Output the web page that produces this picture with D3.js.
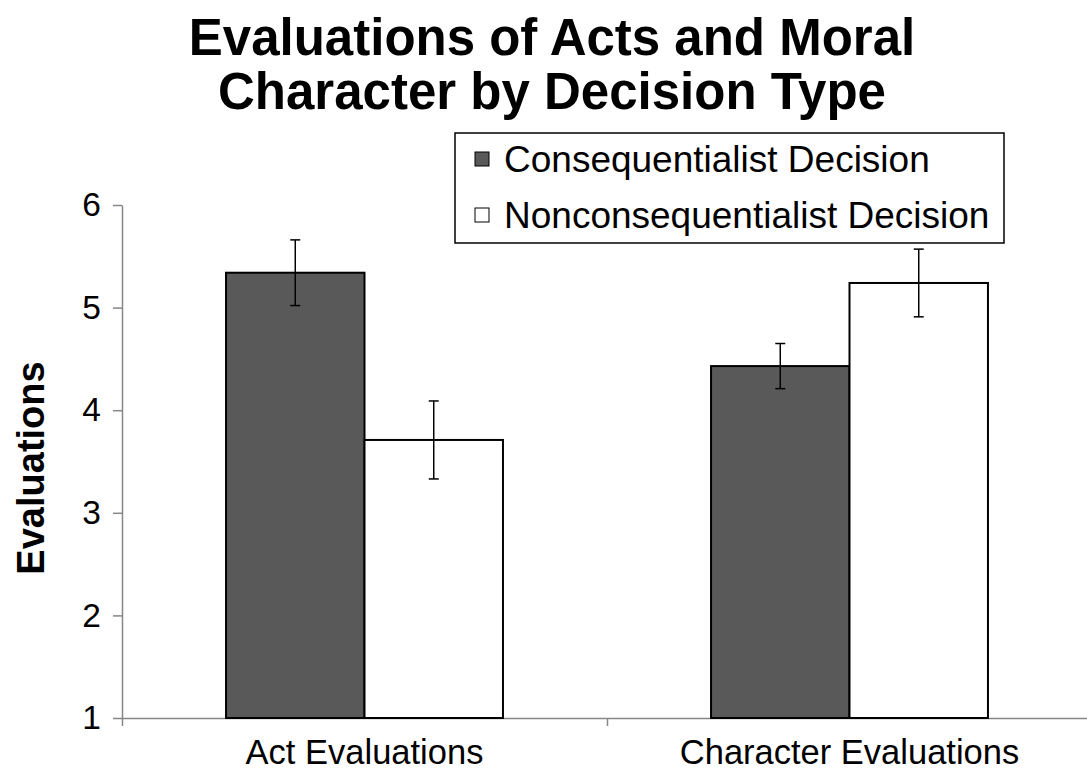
<!DOCTYPE html>
<html>
<head>
<meta charset="utf-8">
<script src="https://cdn.jsdelivr.net/npm/d3@7"></script>
<style>
  body { margin: 0; background: #fff; }
  svg { display: block; font-family: "Liberation Sans", Arial, sans-serif; }
  .axis path, .axis line { stroke: #868686; stroke-width: 1.5; }
  .axis text { fill: #000; }
</style>
</head>
<body>
<script>
var categories = ["Act Evaluations", "Character Evaluations"];
var seriesNames = ["Consequentialist Decision", "Nonconsequentialist Decision"];
var seriesColors = ["#595959", "#ffffff"];
var consequentialist = [5.34, 4.43];
var nonconsequentialist = [3.71, 5.24];
var consErr = [0.32, 0.22];
var nonconsErr = [0.38, 0.33];
var yTicks = [1, 2, 3, 4, 5, 6];

var w = 1087, h = 773;
var plotLeft = 122, plotTop = 205, plotBottom = 718;

var dataset = categories.map(function(c, i) {
    return {
        cat: c,
        vals: [
            {s: 0, v: consequentialist[i], e: consErr[i]},
            {s: 1, v: nonconsequentialist[i], e: nonconsErr[i]}
        ]
    };
});

var svg = d3.select("body").append("svg").attr("width", w).attr("height", h);

var yScale = d3.scaleLinear().domain([1, 6]).range([plotBottom, plotTop]);

var x0 = d3.scaleBand().domain(categories).range([plotLeft, 1092]).padding(0);
var groupW = x0.bandwidth() * 0.571;
var groupOff = (x0.bandwidth() - groupW) / 2;
var x1 = d3.scaleBand().domain([0, 1]).range([0, groupW]).padding(0);

// title
svg.append("text")
    .attr("x", 552).attr("text-anchor", "middle")
    .attr("font-size", 51).attr("font-weight", "bold")
    .selectAll("tspan")
    .data(["Evaluations of Acts and Moral", "Character by Decision Type"])
    .enter().append("tspan")
    .attr("x", 552)
    .attr("y", function(d, i) { return 55 + i * 54; })
    .text(function(d) { return d; });

// y axis
var yAxis = d3.axisLeft(yScale).tickValues(yTicks).tickFormat(d3.format("d"))
    .tickSizeInner(9).tickSizeOuter(0).tickPadding(12);
var gy = svg.append("g").attr("class", "axis")
    .attr("transform", "translate(" + plotLeft + ",0)")
    .call(yAxis);
gy.selectAll("text").attr("font-size", 33.5);

// x axis boundary ticks
var xb = d3.scaleLinear().domain([0, 2]).range([plotLeft, 1092]);
svg.append("g").attr("class", "axis")
    .attr("transform", "translate(0," + plotBottom + ")")
    .call(d3.axisBottom(xb).tickValues([0, 1, 2]).tickFormat("").tickSizeInner(8).tickSizeOuter(0));

// bars
var groups = svg.selectAll(".grp")
    .data(dataset)
    .enter().append("g")
    .attr("class", "grp")
    .attr("transform", function(d) { return "translate(" + (x0(d.cat) + groupOff) + ",0)"; });

groups.selectAll("rect")
    .data(function(d) { return d.vals; })
    .enter().append("rect")
    .attr("x", function(d) { return x1(d.s); })
    .attr("y", function(d) { return yScale(d.v); })
    .attr("width", x1.bandwidth())
    .attr("height", function(d) { return yScale(1) - yScale(d.v); })
    .attr("fill", function(d) { return seriesColors[d.s]; })
    .attr("stroke", "#000")
    .attr("stroke-width", 2);

// error bars
var eb = groups.selectAll(".err")
    .data(function(d) { return d.vals; })
    .enter().append("g")
    .attr("class", "err")
    .attr("stroke", "#000").attr("stroke-width", 1.5);
eb.append("line")
    .attr("x1", function(d) { return x1(d.s) + x1.bandwidth() / 2; })
    .attr("x2", function(d) { return x1(d.s) + x1.bandwidth() / 2; })
    .attr("y1", function(d) { return yScale(d.v + d.e); })
    .attr("y2", function(d) { return yScale(d.v - d.e); });
[1, -1].forEach(function(sign) {
    eb.append("line")
        .attr("x1", function(d) { return x1(d.s) + x1.bandwidth() / 2 - 5; })
        .attr("x2", function(d) { return x1(d.s) + x1.bandwidth() / 2 + 5; })
        .attr("y1", function(d) { return yScale(d.v + sign * d.e); })
        .attr("y2", function(d) { return yScale(d.v + sign * d.e); });
});

// x labels
var gx = svg.append("g").attr("class", "axis")
    .attr("transform", "translate(0," + plotBottom + ")")
    .call(d3.axisBottom(x0).tickSize(0).tickPadding(22));
gx.select(".domain").remove();
gx.selectAll("text").attr("font-size", 34.5);

// y title
svg.append("text")
    .attr("transform", "rotate(-90)")
    .attr("x", -468).attr("y", 44)
    .attr("text-anchor", "middle")
    .attr("font-size", 38).attr("font-weight", "bold")
    .text("Evaluations");

// legend
var legend = svg.append("g");
legend.append("rect")
    .attr("x", 455).attr("y", 133).attr("width", 549).attr("height", 110)
    .attr("fill", "#fff").attr("stroke", "#000").attr("stroke-width", 1.5);
var item = legend.selectAll(".item")
    .data(seriesNames)
    .enter().append("g")
    .attr("class", "item")
    .attr("transform", function(d, i) { return "translate(0," + (172 + i * 56) + ")"; });
item.append("rect")
    .attr("x", 475).attr("y", -20).attr("width", 14).attr("height", 14)
    .attr("fill", function(d, i) { return seriesColors[i]; })
    .attr("stroke", "#000").attr("stroke-width", 1);
item.append("text")
    .attr("x", 504).attr("y", 0)
    .attr("font-size", 37)
    .text(function(d) { return d; });
</script>
</body>
</html>
